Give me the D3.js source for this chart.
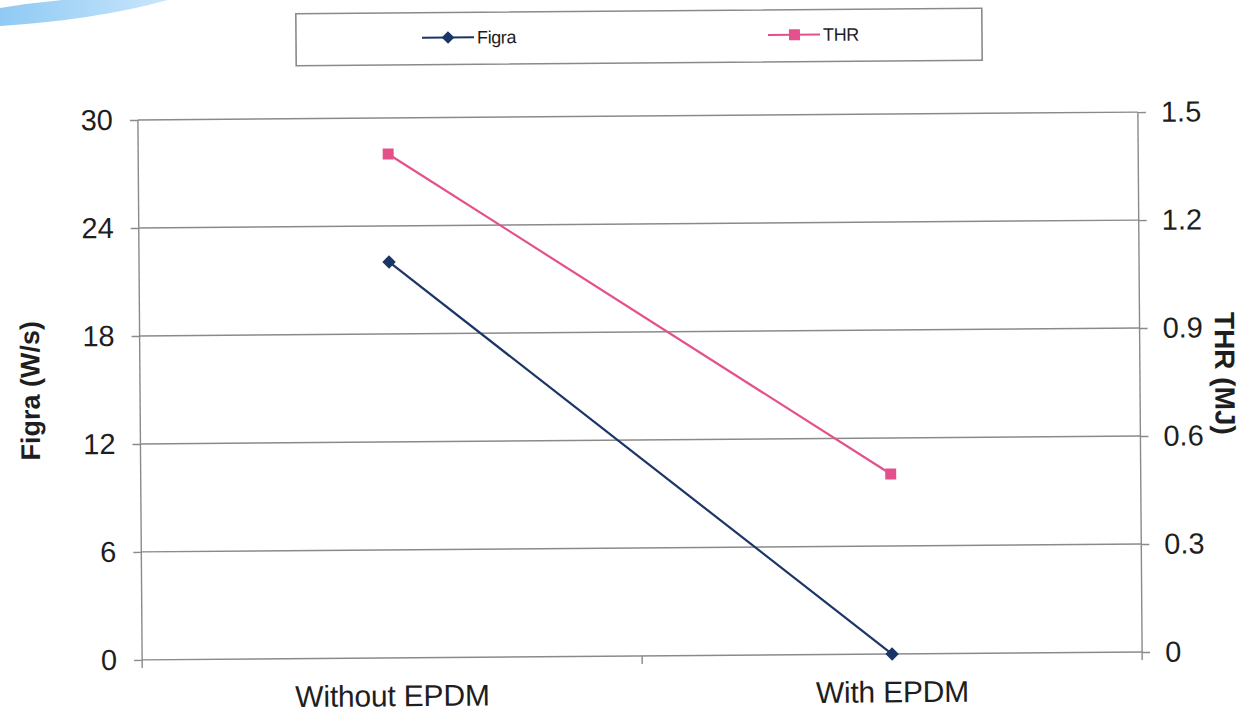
<!DOCTYPE html>
<html>
<head>
<meta charset="utf-8">
<script src="https://cdn.jsdelivr.net/npm/d3@7/dist/d3.min.js"></script>
<style>
  html, body { margin: 0; padding: 0; background: #fff; }
  svg { display: block; font-family: "Liberation Sans", Arial, sans-serif; }
</style>
</head>
<body>
<svg id="chart" width="1252" height="715"></svg>
<script>
// Data
const categories = ["Without EPDM", "With EPDM"];
const figraValues = [22, 0];      // W/s, left axis
const thrValues = [1.40, 0.50];   // MJ, right axis
const leftTicks = [0, 6, 12, 18, 24, 30];
const rightTicks = [0, 0.3, 0.6, 0.9, 1.2, 1.5];
const seriesNames = ["Figra", "THR"];

const colors = { figra: "#1b3566", thr: "#e4508c", grid: "#8a8a8a", text: "#1e1e1e" };

const svg = d3.select("#chart");

// decorative light-blue swoosh in the top-left corner
const defs = svg.append("defs");
const grad = defs.append("linearGradient").attr("id", "swoosh").attr("x1", "0").attr("x2", "1");
grad.append("stop").attr("offset", "0").attr("stop-color", "#8fcaf4");
grad.append("stop").attr("offset", "1").attr("stop-color", "#c9e6fb");
svg.append("path")
  .attr("d", "M0,8 Q30,3 62,0 L168,0 Q95,20 0,26 Z")
  .attr("fill", "url(#swoosh)");

const margin = { left: 140, right: 1140, top: 116, bottom: 656 };

// whole chart sits slightly tilted
const g = svg.append("g").attr("transform", "rotate(-0.45 640 385)");

const x = d3.scaleBand().domain(categories).range([margin.left, margin.right]);
const yL = d3.scaleLinear().domain([0, 30]).range([margin.bottom, margin.top]);
const yR = d3.scaleLinear().domain([0, 1.5]).range([margin.bottom, margin.top]);

// gridlines
g.append("g").selectAll("line").data(leftTicks.filter(d => d > 0)).join("line")
  .attr("x1", margin.left).attr("x2", margin.right)
  .attr("y1", d => yL(d)).attr("y2", d => yL(d))
  .attr("stroke", colors.grid).attr("stroke-width", 1.4);

// left axis
const axL = g.append("g").attr("transform", `translate(${margin.left},0)`)
  .call(d3.axisLeft(yL).tickValues(leftTicks).tickSize(8).tickPadding(17).tickFormat(d3.format("d")));
// right axis
const axR = g.append("g").attr("transform", `translate(${margin.right},0)`)
  .call(d3.axisRight(yR).tickValues(rightTicks).tickSize(8).tickPadding(15).tickFormat(d => d === 0 ? "0" : d3.format(".1f")(d)));
// bottom axis with ticks at band boundaries
const axB = g.append("g").attr("transform", `translate(0,${margin.bottom})`)
  .call(d3.axisBottom(x).tickSize(0).tickPadding(27));
axB.selectAll(".tick line").remove();
const boundaries = [margin.left, (margin.left + margin.right) / 2, margin.right];
axB.selectAll(".bt").data(boundaries).join("line")
  .attr("x1", d => d).attr("x2", d => d).attr("y1", 0).attr("y2", 8)
  .attr("stroke", colors.grid).attr("stroke-width", 1.4);

[axL, axR, axB].forEach(a => {
  a.select(".domain").attr("stroke", colors.grid).attr("stroke-width", 1.4);
  a.selectAll(".tick line").attr("stroke", colors.grid).attr("stroke-width", 1.4);
  a.selectAll("text").attr("fill", colors.text).style("font-size", "29px")
    .style("font-family", "'Liberation Sans', Arial, sans-serif");
});
axL.select(".domain").attr("d", `M0,${margin.top}V${margin.bottom}`);
axR.select(".domain").attr("d", `M0,${margin.top}V${margin.bottom}`);
axB.select(".domain").attr("d", `M${margin.left},0H${margin.right}`);
axB.selectAll("text").style("font-size", "30px").style("letter-spacing", "-0.2px");

// axis titles
g.append("text")
  .attr("transform", `translate(30,${(margin.top + margin.bottom) / 2}) rotate(-90)`)
  .attr("text-anchor", "middle").attr("dy", "0.35em")
  .style("font-size", "27px").style("font-weight", "bold").attr("fill", colors.text)
  .text("Figra (W/s)");
g.append("text")
  .attr("transform", `translate(1225,${(margin.top + margin.bottom) / 2 - 8}) rotate(90)`)
  .attr("text-anchor", "middle").attr("dy", "0.35em")
  .style("font-size", "28px").style("font-weight", "bold").attr("fill", colors.text)
  .text("THR (MJ)");

const cx = d => x(d) + x.bandwidth() / 2;

// THR series
const thrData = categories.map((c, i) => ({ c, v: thrValues[i] }));
g.append("path").datum(thrData)
  .attr("d", d3.line().x(d => cx(d.c)).y(d => yR(d.v)))
  .attr("fill", "none").attr("stroke", colors.thr).attr("stroke-width", 2.2);
g.selectAll(".thrpt").data(thrData).join("rect")
  .attr("x", d => cx(d.c) - 5.5).attr("y", d => yR(d.v) - 5.5)
  .attr("width", 11).attr("height", 11).attr("fill", colors.thr);

// Figra series: squares turned 45 degrees as diamond markers
const figData = categories.map((c, i) => ({ c, v: figraValues[i] }));
g.append("path").datum(figData)
  .attr("d", d3.line().x(d => cx(d.c)).y(d => yL(d.v)))
  .attr("fill", "none").attr("stroke", colors.figra).attr("stroke-width", 2.2);
const diamond = d3.symbol().type(d3.symbolSquare).size(90);
g.selectAll(".figpt").data(figData).join("path")
  .attr("transform", d => `translate(${cx(d.c)},${yL(d.v)}) rotate(45)`)
  .attr("d", diamond).attr("fill", colors.figra);

// legend
const lg = svg.append("g").attr("transform", "rotate(-0.45 640 37)");
lg.append("rect").attr("x", 296).attr("y", 11).attr("width", 686).attr("height", 52)
  .attr("fill", "#fff").attr("stroke", "#8a8a8a").attr("stroke-width", 1.6);
const legendItems = [
  { name: seriesNames[0], color: colors.figra, x0: 422, marker: "diamond" },
  { name: seriesNames[1], color: colors.thr, x0: 768, marker: "square" }
];
legendItems.forEach(it => {
  const y = 36;
  lg.append("line").attr("x1", it.x0).attr("x2", it.x0 + 52).attr("y1", y).attr("y2", y)
    .attr("stroke", it.color).attr("stroke-width", 2);
  if (it.marker === "diamond") {
    lg.append("path").attr("transform", `translate(${it.x0 + 26},${y}) rotate(45)`)
      .attr("d", d3.symbol().type(d3.symbolSquare).size(80)).attr("fill", it.color);
  } else {
    lg.append("rect").attr("x", it.x0 + 21).attr("y", y - 5.5).attr("width", 11).attr("height", 11)
      .attr("fill", it.color);
  }
  lg.append("text").attr("x", it.x0 + 55).attr("y", y).attr("dy", "0.35em")
    .style("font-size", "18px").style("letter-spacing", "-0.4px").attr("fill", colors.text).text(it.name);
});
</script>
</body>
</html>
